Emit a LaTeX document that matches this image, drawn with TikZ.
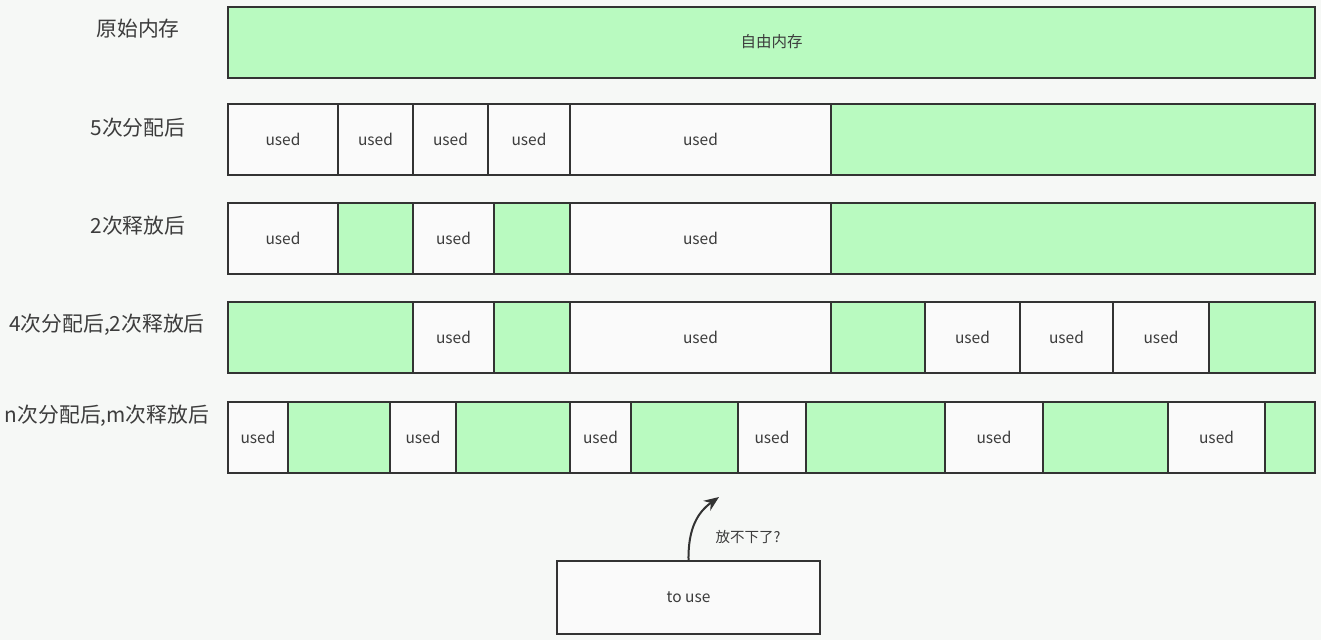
\documentclass[tikz,border=0pt]{standalone}
\usepackage{fontspec}
\setmainfont{Noto Sans CJK SC}
\usepackage{tikz}
\usetikzlibrary{arrows.meta}
\definecolor{freegreen}{RGB}{185,250,192}
\definecolor{usedwhite}{RGB}{250,250,250}
\definecolor{edge}{RGB}{51,51,51}
\definecolor{ink}{RGB}{60,60,60}
\definecolor{paper}{RGB}{246,248,246}
\tikzset{>={Stealth[length=15pt,width=12pt]}}
\tikzset{
  cell/.style={draw=edge, line width=2pt, minimum height=71pt, inner sep=0pt,
    text=ink, font=\fontsize{15.5}{18}\selectfont},
  usedcell/.style={cell, fill=usedwhite, node contents=used},
  freecell/.style={cell, fill=freegreen, node contents={}},
  rowlabel/.style={text=ink, font=\fontsize{20.8}{24}\selectfont},
}

\begin{document}
\begin{tikzpicture}[x=1pt, y=-1pt]
    \useasboundingbox (0,0) rectangle (1321,640);
    \fill[paper] (0,0) rectangle (1321,640);

    \node[rowlabel] (l1) at (138,29) {原始内存};
    \node[rowlabel] (l2) at (138,128) {5次分配后};
    \node[rowlabel] (l3) at (138,226) {2次释放后};
    \node[rowlabel] (l4) at (107,325) {4次分配后,2次释放后};
    \node[rowlabel] (l5) at (107,416) {n次分配后,m次释放后};

    \node[cell, fill=freegreen, minimum width=1087pt] (mem) at (771.5,42) {自由内存};

    \foreach \a/\b/\s [count=\i] in {228/338/usedcell, 338/413/usedcell, 413/488/usedcell,
        488/570/usedcell, 570/831/usedcell, 831/1315/freecell}
        \node (r2c\i) at ({(\a+\b)/2},139.5) [\s, minimum width={\b-\a}];

    \foreach \a/\b/\s [count=\i] in {228/338/usedcell, 338/413/freecell, 413/494/usedcell,
        494/570/freecell, 570/831/usedcell, 831/1315/freecell}
        \node (r3c\i) at ({(\a+\b)/2},238) [\s, minimum width={\b-\a}];

    \foreach \a/\b/\s [count=\i] in {228/413/freecell, 413/494/usedcell, 494/570/freecell,
        570/831/usedcell, 831/925/freecell, 925/1020/usedcell, 1020/1113/usedcell,
        1113/1209/usedcell, 1209/1315/freecell}
        \node (r4c\i) at ({(\a+\b)/2},337) [\s, minimum width={\b-\a}];

    \foreach \a/\b/\s [count=\i] in {228/288/usedcell, 288/390/freecell, 390/456/usedcell,
        456/570/freecell, 570/631/usedcell, 631/738/freecell, 738/806/usedcell,
        806/945/freecell, 945/1043/usedcell, 1043/1168/freecell, 1168/1265/usedcell,
        1265/1315/freecell}
        \node (r5c\i) at ({(\a+\b)/2},437.5) [\s, minimum width={\b-\a}];

    \node[cell, fill=usedwhite, minimum width=263pt, minimum height=73pt] (touse) at (688.5,597.5) {to use};
    \coordinate (tip) at (719,497);
    \draw[->, edge, line width=2pt] (touse.north) .. controls (688,528) and (698,512) .. (tip);
    \node[text=ink, font=\fontsize{14.5}{17}\selectfont] (nofit) at (748,537) {放不下了?};
\end{tikzpicture}
\end{document}
